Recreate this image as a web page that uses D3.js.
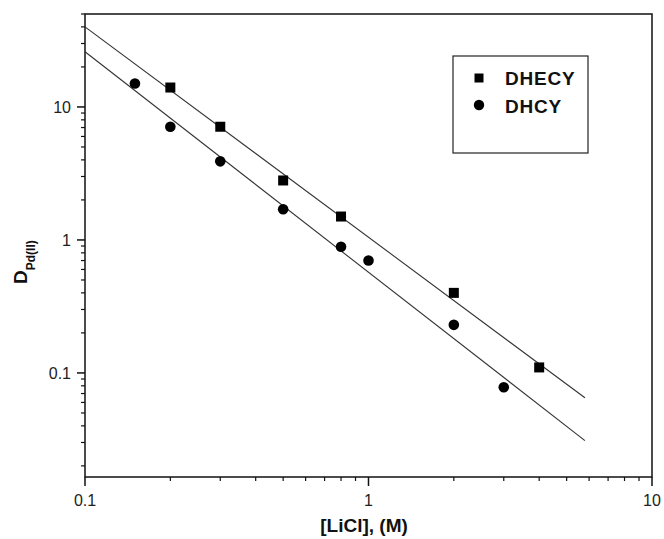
<!DOCTYPE html>
<html>
<head>
<meta charset="utf-8">
<script src="https://cdn.jsdelivr.net/npm/d3@7"></script>
<style>
  body { margin: 0; background: #fff; }
  text { font-family: "Liberation Sans", Arial, sans-serif; fill: #111; }
  .tick-label { font-size: 16px; fill: #222; }
  .axis-title { font-size: 19px; font-weight: bold; }
  .legend-text { font-size: 19px; font-weight: bold; letter-spacing: 0.8px; }
</style>
</head>
<body>
<div id="chart"></div>
<script>
// Data.
const hecyX = [0.2, 0.3, 0.5, 0.8, 2, 4];
const hecyY = [14, 7.1, 2.8, 1.5, 0.4, 0.11];
const hcyX = [0.15, 0.2, 0.3, 0.5, 0.8, 1, 2, 3];
const hcyY = [15, 7.1, 3.9, 1.7, 0.89, 0.7, 0.23, 0.078];

// Fitted straight lines (end points).
const fitX = [0.1, 5.8];
const fitHecyY = [40, 0.065];
const fitHcyY = [26, 0.031];

const xTickValues = [0.1, 1, 10];
const yTickValues = [0.1, 1, 10];
const seriesNames = ["DHECY", "DHCY"];

const width = 664;
const height = 539;
const margin = { top: 14, right: 12, bottom: 62, left: 85 };

const svg = d3.select("#chart")
    .append("svg")
    .attr("width", width)
    .attr("height", height);

const xScale = d3.scaleLog()
    .domain([0.1, 10])
    .range([margin.left, width - margin.right]);

const yScale = d3.scaleLog()
    .domain([0.0165, 50])
    .range([height - margin.bottom, margin.top]);

// Minor ticks for each decade.
const xMinor = [];
const yMinor = [];
[0.1, 1].forEach(function(b) {
    for (let k = 2; k <= 9; k++) xMinor.push(b * k);
});
[0.01, 0.1, 1, 10].forEach(function(b) {
    for (let k = 2; k <= 9; k++) {
        const v = b * k;
        if (v >= 0.0165 && v <= 50) yMinor.push(v);
    }
});

const bottomY = height - margin.bottom;

// Frame
svg.append("rect")
    .attr("x", margin.left)
    .attr("y", margin.top)
    .attr("width", width - margin.left - margin.right)
    .attr("height", height - margin.top - margin.bottom)
    .attr("fill", "none")
    .attr("stroke", "#111")
    .attr("stroke-width", 1.5);

// X axis ticks
svg.append("g")
    .selectAll("line")
    .data(xMinor)
    .join("line")
    .attr("x1", d => xScale(d))
    .attr("x2", d => xScale(d))
    .attr("y1", bottomY)
    .attr("y2", bottomY + 4)
    .attr("stroke", "#111")
    .attr("stroke-width", 1.2);

svg.append("g")
    .selectAll("line")
    .data(xTickValues)
    .join("line")
    .attr("x1", d => xScale(d))
    .attr("x2", d => xScale(d))
    .attr("y1", bottomY)
    .attr("y2", bottomY + 9)
    .attr("stroke", "#111")
    .attr("stroke-width", 1.5);

svg.append("g")
    .selectAll("text")
    .data(xTickValues)
    .join("text")
    .attr("class", "tick-label")
    .attr("x", d => xScale(d))
    .attr("y", bottomY + 29)
    .attr("text-anchor", "middle")
    .text(d => d3.format("~g")(d));

// Y axis ticks
svg.append("g")
    .selectAll("line")
    .data(yMinor)
    .join("line")
    .attr("x1", margin.left - 4)
    .attr("x2", margin.left)
    .attr("y1", d => yScale(d))
    .attr("y2", d => yScale(d))
    .attr("stroke", "#111")
    .attr("stroke-width", 1.2);

svg.append("g")
    .selectAll("line")
    .data(yTickValues)
    .join("line")
    .attr("x1", margin.left - 8)
    .attr("x2", margin.left)
    .attr("y1", d => yScale(d))
    .attr("y2", d => yScale(d))
    .attr("stroke", "#111")
    .attr("stroke-width", 1.5);

svg.append("g")
    .selectAll("text")
    .data(yTickValues)
    .join("text")
    .attr("class", "tick-label")
    .attr("x", margin.left - 14)
    .attr("y", d => yScale(d) + 6)
    .attr("text-anchor", "end")
    .text(d => d3.format("~g")(d));

// Fit lines
const line = d3.line()
    .x(d => xScale(d[0]))
    .y(d => yScale(d[1]));

[fitHecyY, fitHcyY].forEach(function(ys) {
    svg.append("path")
        .datum(fitX.map((x, i) => [x, ys[i]]))
        .attr("d", line)
        .attr("fill", "none")
        .attr("stroke", "#333")
        .attr("stroke-width", 1.1);
});

// Squares (DHECY)
svg.append("g")
    .selectAll("rect")
    .data(hecyX.map((x, i) => [x, hecyY[i]]))
    .join("rect")
    .attr("x", d => xScale(d[0]) - 5)
    .attr("y", d => yScale(d[1]) - 5)
    .attr("width", 10)
    .attr("height", 10)
    .attr("fill", "#000");

// Circles (DHCY)
svg.append("g")
    .selectAll("circle")
    .data(hcyX.map((x, i) => [x, hcyY[i]]))
    .join("circle")
    .attr("cx", d => xScale(d[0]))
    .attr("cy", d => yScale(d[1]))
    .attr("r", 5.3)
    .attr("fill", "#000");

// Legend
const legend = svg.append("g");
legend.append("rect")
    .attr("x", 453)
    .attr("y", 56)
    .attr("width", 135)
    .attr("height", 97)
    .attr("fill", "#fff")
    .attr("stroke", "#222")
    .attr("stroke-width", 1.2);

legend.append("rect")
    .attr("x", 474.5)
    .attr("y", 73.5)
    .attr("width", 9)
    .attr("height", 9)
    .attr("fill", "#000");
legend.append("circle")
    .attr("cx", 479)
    .attr("cy", 105)
    .attr("r", 5.2)
    .attr("fill", "#000");

legend.selectAll("text")
    .data(seriesNames)
    .join("text")
    .attr("class", "legend-text")
    .attr("x", 505)
    .attr("y", (d, i) => 85 + i * 28)
    .text(d => d);

// Axis titles
svg.append("text")
    .attr("class", "axis-title")
    .attr("x", 364)
    .attr("y", 532)
    .attr("text-anchor", "middle")
    .text("[LiCl], (M)");

const yTitle = svg.append("text")
    .attr("class", "axis-title")
    .attr("transform", "translate(27, 284) rotate(-90)")
    .attr("text-anchor", "start");
yTitle.append("tspan").text("D");
yTitle.append("tspan")
    .attr("dy", 8)
    .style("font-size", "12px")
    .text("Pd(II)");
</script>
</body>
</html>
